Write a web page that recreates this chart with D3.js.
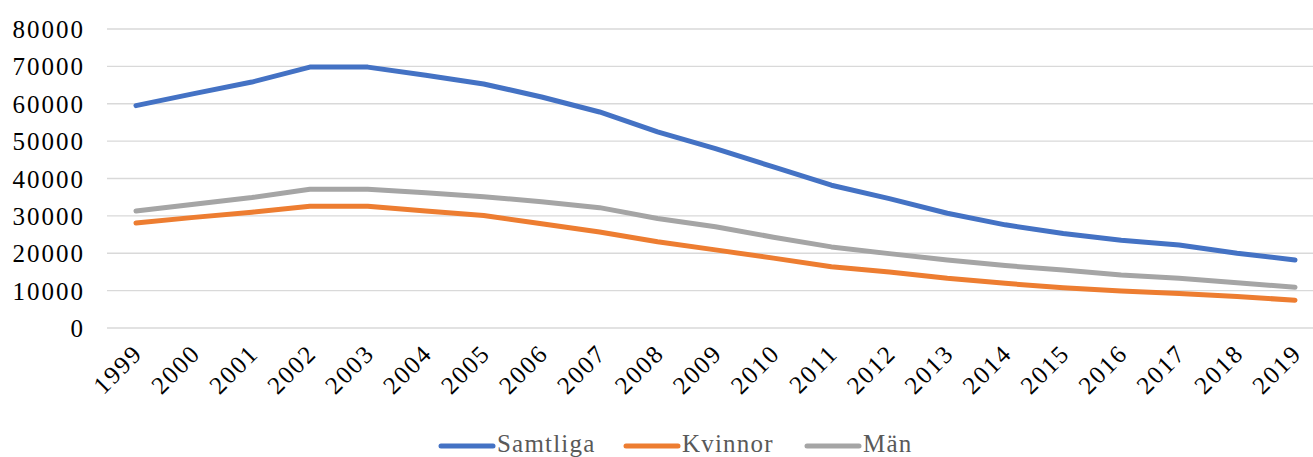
<!DOCTYPE html>
<html>
<head>
<meta charset="utf-8">
<script src="https://cdn.jsdelivr.net/npm/d3@7/dist/d3.min.js"></script>
<style>
html,body{margin:0;padding:0;background:#fff;overflow:hidden;}
svg{display:block;}
text{font-family:"Liberation Serif","DejaVu Serif",serif;}
</style>
</head>
<body>
<svg id="chart" width="1313" height="457"></svg>
<script>
const years = ["1999","2000","2001","2002","2003","2004","2005","2006","2007","2008","2009","2010","2011","2012","2013","2014","2015","2016","2017","2018","2019"];
const samtliga = [59500,62700,65800,69800,69800,67600,65300,61800,57800,52500,48000,43100,38200,34600,30700,27600,25300,23500,22200,20000,18200];
const kvinnor  = [28100,29600,31000,32600,32600,31300,30100,27900,25700,23100,20900,18700,16400,15000,13300,11950,10800,9900,9250,8400,7450];
const man      = [31300,33100,34900,37100,37100,36200,35100,33800,32200,29300,27100,24300,21700,19900,18200,16700,15500,14200,13300,12100,10900];
const yTicks = [0,10000,20000,30000,40000,50000,60000,70000,80000];
const seriesNames = ["Samtliga","Kvinnor","Män"];
const seriesColors = ["#4472C4","#ED7D31","#A5A5A5"];

const svg = d3.select("#chart");
const plotLeft = 107, plotRight = 1324, plotTop = 29, plotBottom = 328;

const x = d3.scaleBand().domain(years).range([plotLeft, plotRight]);
const y = d3.scaleLinear().domain([0, 80000]).range([plotBottom, plotTop]);
const xc = d => x(d) + x.bandwidth() / 2;

// gridlines
svg.append("g").selectAll("line").data(yTicks).join("line")
  .attr("x1", plotLeft).attr("x2", 1313)
  .attr("y1", d => y(d)).attr("y2", d => y(d))
  .attr("stroke", "#d9d9d9").attr("stroke-width", 1.4);

// y axis labels
const yAxis = d3.axisLeft(y).tickValues(yTicks).tickSize(0).tickPadding(0).tickFormat(d3.format("d"));
const ya = svg.append("g").attr("transform", "translate(85,0)").call(yAxis);
ya.select(".domain").remove();
ya.selectAll("text").attr("font-size", 25).attr("letter-spacing", "2px")
  .attr("fill", "#000").attr("font-family", "Liberation Serif").attr("dy", "0.34em");

// x axis labels
const xAxis = d3.axisBottom(x).tickSize(0).tickPadding(0);
const xa = svg.append("g").call(xAxis);
xa.select(".domain").remove();
xa.selectAll(".tick").attr("transform", d => `translate(${xc(d)},0)`);
xa.selectAll("text")
  .attr("font-size", 25).attr("letter-spacing", "1.8px").attr("fill", "#000")
  .attr("font-family", "Liberation Serif")
  .attr("text-anchor", "end").attr("dy", 0).attr("y", 0)
  .attr("transform", "translate(8,355) rotate(-45)");

// lines
const data = [samtliga, kvinnor, man];
const line = d3.line().x((d, i) => xc(years[i])).y(d => y(d));
svg.append("g").selectAll("path").data(data).join("path")
  .attr("d", d => line(d))
  .attr("fill", "none")
  .attr("stroke", (d, i) => seriesColors[i])
  .attr("stroke-width", 5)
  .attr("stroke-linecap", "round").attr("stroke-linejoin", "round");

// legend
const legendX = [441, 626, 807];
const lg = svg.append("g").selectAll("g").data(seriesNames).join("g")
  .attr("transform", (d, i) => `translate(${legendX[i]},446)`);
lg.append("line").attr("x1", 0).attr("x2", 52).attr("y1", 0).attr("y2", 0)
  .attr("stroke", (d, i) => seriesColors[i]).attr("stroke-width", 5).attr("stroke-linecap", "round");
lg.append("text").attr("x", 56).attr("y", 5.5).text(d => d)
  .attr("font-size", 25).attr("letter-spacing", "1.2px").attr("fill", "#595959");
</script>
</body>
</html>
